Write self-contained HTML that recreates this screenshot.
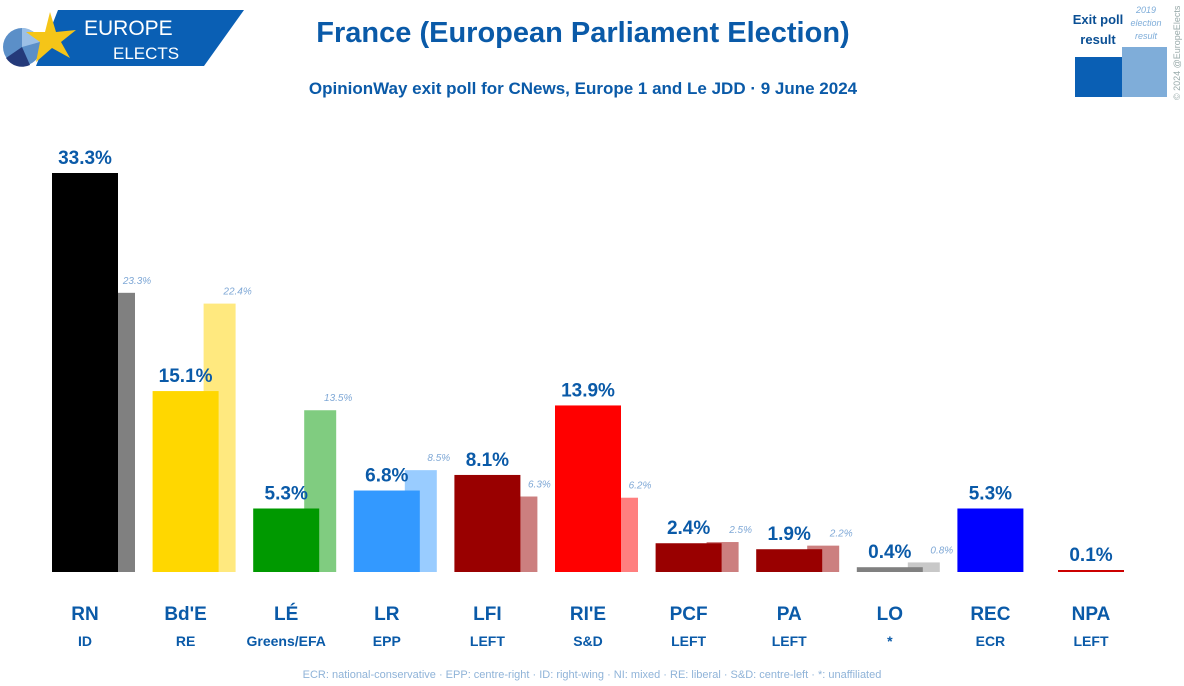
<!DOCTYPE html>
<html><head><meta charset="utf-8"><style>
body{margin:0;background:#fff;width:1184px;height:681px;overflow:hidden;font-family:"Liberation Sans","DejaVu Sans",sans-serif}
svg text{font-family:"Liberation Sans","DejaVu Sans",sans-serif}
</style></head><body>
<svg id="chart" width="1184" height="681" xmlns="http://www.w3.org/2000/svg">
<g>
<polygon points="58,10 244,10 204,66 36,66" fill="#0a5fb4"/>
<circle cx="22" cy="47" r="19" fill="#5b8fc8"/>
<path d="M22,47 L6,58 A19,19 0 0 0 30,65 Z" fill="#243a7a"/>
<path d="M22,47 L22,28 A19,19 0 0 1 40,42 Z" fill="#9cc0e6"/>
<polygon points="50,12 56,32 76,30 61,42 70,58 52,48 36,62 40,42 26,32 45,32" fill="#f5c518"/>
<text x="84" y="35" fill="#fff" font-size="21">EUROPE</text>
<text x="113" y="59" fill="#fff" font-size="17">ELECTS</text>
</g>
<text x="583" y="42" text-anchor="middle" fill="#0a5aa8" font-size="29" font-weight="bold">France (European Parliament Election)</text>
<text x="583" y="94" text-anchor="middle" fill="#0a5aa8" font-size="17" font-weight="bold">OpinionWay exit poll for CNews, Europe 1 and Le JDD · 9 June 2024</text>
<g>
<rect x="1075" y="57" width="50" height="40" fill="#0a5fb4"/>
<rect x="1122" y="47" width="45" height="50" fill="#7fadd9"/>
<text x="1098" y="24" text-anchor="middle" fill="#0a4f94" font-size="13" font-weight="bold">Exit poll</text>
<text x="1098" y="44" text-anchor="middle" fill="#0a4f94" font-size="13" font-weight="bold">result</text>
<text x="1146" y="13" text-anchor="middle" fill="#7fadd9" font-size="9" font-style="italic">2019</text>
<text x="1146" y="26" text-anchor="middle" fill="#7fadd9" font-size="9" font-style="italic">election</text>
<text x="1146" y="39" text-anchor="middle" fill="#7fadd9" font-size="9" font-style="italic">result</text>
<text transform="translate(1180,100) rotate(-90)" fill="#9aa" font-size="9">© 2024 @EuropeElects</text>
</g>
<g id="bars"></g>
<g id="labels"></g>
<text x="592" y="678" text-anchor="middle" fill="#8fb3d8" font-size="11">ECR: national-conservative · EPP: centre-right · ID: right-wing · NI: mixed · RE: liberal · S&amp;D: centre-left · *: unaffiliated</text>
</svg>
<script>
const parties=["RN","Bd'E","LÉ","LR","LFI","RI'E","PCF","PA","LO","REC","NPA"];
const groups=["ID","RE","Greens/EFA","EPP","LEFT","S&D","LEFT","LEFT","*","ECR","LEFT"];
const exitPoll=[33.3,15.1,5.3,6.8,8.1,13.9,2.4,1.9,0.4,5.3,0.1];
const prev2019=[23.3,22.4,13.5,8.5,6.3,6.2,2.5,2.2,0.8,null,null];
const colors=["#000000","#FFD700","#009900","#3399FF","#990000","#FF0000","#990000","#990000","#808080","#0000FF","#CC0000"];
const colors2=["#808080","#FFE97F","#80CC80","#99CCFF","#CC7F7F","#FF7F7F","#CC7F7F","#CC7F7F","#C8C8C8","#8080FF","#E58080"];
const base=572, scale=399/33.3;
const xPos=i=>52+i*100.6;
const g=document.getElementById('bars');
const gl=document.getElementById('labels');
const NS="http://www.w3.org/2000/svg";
function mk(t,a,parent){const e=document.createElementNS(NS,t);for(const k in a)e.setAttribute(k,a[k]);(parent||g).appendChild(e);return e;}
parties.forEach((p,i)=>{
 const x=xPos(i);
 if(prev2019[i]!=null){
  const h=Math.max(prev2019[i]*scale,2);
  const r=mk('rect',{x:x+51,y:base-h,width:32,height:h,fill:colors2[i]});
  
  
  const t=mk('text',{x:x+85,y:base-h-9,'text-anchor':'middle',fill:'#7fa8d6','font-size':10,'font-style':'italic'},gl);
  t.textContent=prev2019[i].toFixed(1)+'%';
  
  
 }
 const h=Math.max(exitPoll[i]*scale,2);
 const r=mk('rect',{x:x,y:base-h,width:66,height:h,fill:colors[i]});
 
 
 const t=mk('text',{x:x+33,y:base-h-9,'text-anchor':'middle',fill:'#0a5aa8','font-size':19,'font-weight':'bold'},gl);
 t.textContent=exitPoll[i].toFixed(1)+'%';
 
 
 const n=mk('text',{x:x+33,y:620,'text-anchor':'middle',fill:'#0a5aa8','font-size':19,'font-weight':'bold'},gl);
 n.textContent=p;
 
 
 const gr=mk('text',{x:x+33,y:646,'text-anchor':'middle',fill:'#0a5aa8','font-size':14,'font-weight':'bold'},gl);
 gr.textContent=groups[i];
 
 
});
</script>
</body></html>
